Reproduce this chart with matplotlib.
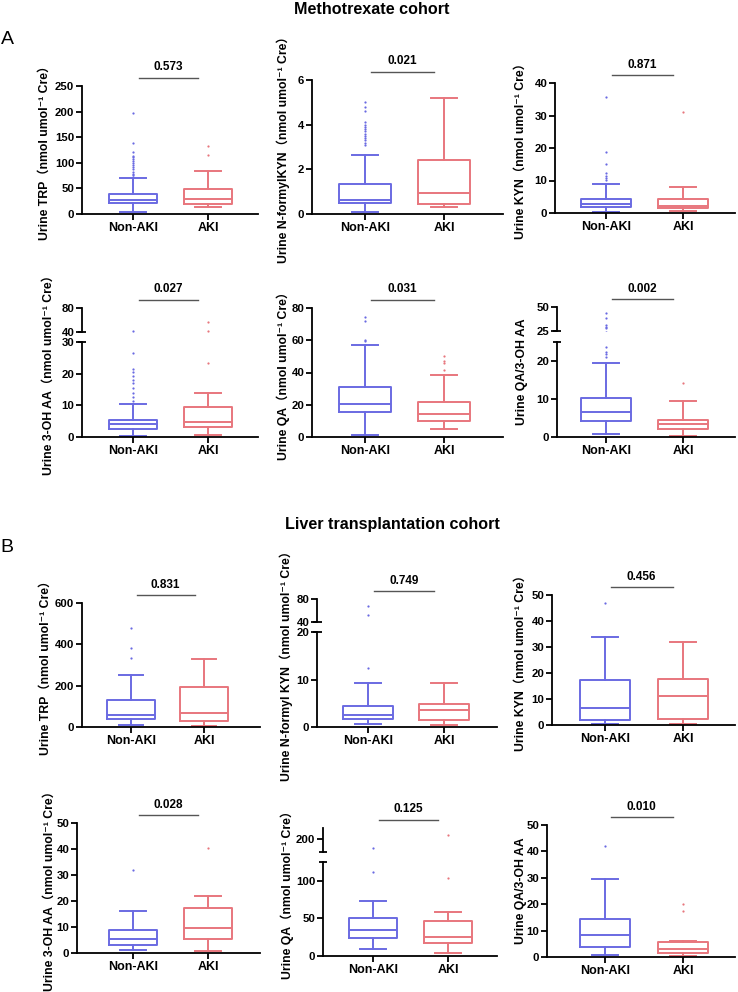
import matplotlib
matplotlib.use('Agg')
import matplotlib.pyplot as plt
import matplotlib.transforms as mtransforms

plt.rcParams['font.family'] = ['Liberation Sans', 'Noto Sans CJK SC', 'DejaVu Sans']
plt.rcParams['font.weight'] = 'bold'

#################################################################
# data: [whisker low, Q1, median, Q3, whisker high] for Non-AKI, AKI

GROUPS = ['Non-AKI', 'AKI']
UNIT = '（nmol umol⁻¹ Cre）'

# Methotrexate cohort
A_TRP_box = [[4, 21, 28, 39, 70], [14, 20, 30, 49, 84]]
A_TRP_out = [[197, 138, 122, 114, 111, 107, 103, 99, 95, 91, 87, 83, 79, 76, 73], [115, 133]]
A_NFK_box = [[0.08, 0.48, 0.62, 1.33, 2.66], [0.3, 0.45, 0.93, 2.4, 5.21]]
A_NFK_out = [[5.0, 4.8, 4.6, 4.1, 4.0, 3.9, 3.8, 3.7, 3.6, 3.5, 3.4, 3.3, 3.2, 3.1], []]
A_KYN_box = [[0.2, 2.0, 2.8, 4.2, 9.0], [0.6, 1.5, 2.3, 4.3, 7.9]]
A_KYN_out = [[35.7, 18.8, 15.1, 12.2, 11.5, 10.7, 10.2], [31.2]]
A_3HAA_box = [[0.3, 2.5, 4.0, 5.5, 10.5], [0.5, 3.2, 4.8, 9.5, 14.0]]
A_3HAA_out = [[41, 26.4, 21.5, 20.5, 19.4, 18, 17, 15.5, 14, 12.5, 11.5], [57, 42, 23.3]]
A_QA_box = [[1, 15.5, 20.5, 31, 57], [5, 10, 14, 22, 38.2]]
A_QA_out = [[74.3, 72.2, 60.3, 59.3], [50, 47, 46, 41.8]]
A_RATIO_box = [[0.8, 4.2, 6.5, 10.2, 19.4], [0.3, 2.0, 3.3, 4.5, 9.5]]
A_RATIO_out = [[43.7, 38.4, 31.3, 29.5, 27.8, 23.8, 22.5, 21.9, 21.0], [14.1]]

# Liver transplantation cohort
B_TRP_box = [[12, 41, 57, 130, 250], [5, 29, 68, 195, 328]]
B_TRP_out = [[480, 380, 332], []]
B_NFK_box = [[0.6, 1.7, 2.6, 4.5, 9.2], [0.5, 1.4, 3.6, 4.9, 9.2]]
B_NFK_out = [[67, 52, 12.4], []]
B_KYN_box = [[0.3, 1.9, 6.4, 17.5, 33.7], [0.4, 2.2, 11.2, 17.8, 31.9]]
B_KYN_out = [[46.8], []]
B_3HAA_box = [[1.0, 3.0, 5.2, 8.8, 16.2], [0.8, 5.3, 9.7, 17.4, 21.9]]
B_3HAA_out = [[32], [40.2]]
B_QA_box = [[8.9, 24.3, 34.5, 50, 73], [4.4, 16.8, 24.8, 47, 58]]
B_QA_out = [[187, 112], [205, 104]]
B_RATIO_box = [[0.6, 3.8, 8.5, 14.3, 29.4], [0.3, 1.7, 3.2, 5.5, 6.1]]
B_RATIO_out = [[42], [20, 17.4]]

P_VALUES = ['0.573', '0.021', '0.871', '0.027', '0.031', '0.002',
            '0.831', '0.749', '0.456', '0.028', '0.125', '0.010']

Y_LABELS = ['Urine TRP' + UNIT, 'Urine N-formylKYN' + UNIT, 'Urine KYN' + UNIT,
            'Urine 3-OH AA' + UNIT, 'Urine QA' + UNIT, 'Urine QA/3-OH AA',
            'Urine TRP' + UNIT, 'Urine N-formyl KYN' + UNIT, 'Urine KYN' + UNIT,
            'Urine 3-OH AA' + UNIT, 'Urine QA' + UNIT, 'Urine QA/3-OH AA']

#################################################################

BOXES = [A_TRP_box, A_NFK_box, A_KYN_box, A_3HAA_box, A_QA_box, A_RATIO_box,
         B_TRP_box, B_NFK_box, B_KYN_box, B_3HAA_box, B_QA_box, B_RATIO_box]
OUTS = [A_TRP_out, A_NFK_out, A_KYN_out, A_3HAA_out, A_QA_out, A_RATIO_out,
        B_TRP_out, B_NFK_out, B_KYN_out, B_3HAA_out, B_QA_out, B_RATIO_out]

# lower ylim, lower ticks, upper ylim (broken axis), upper ticks
SCALES = [
    ((0, 250), range(0, 251, 50), None, None),
    ((0, 6), range(0, 7, 2), None, None),
    ((0, 40), range(0, 41, 10), None, None),
    ((0, 30), range(0, 31, 10), (40, 80), [40, 80]),
    ((0, 80), range(0, 81, 20), None, None),
    ((0, 25), [0, 10, 20], (25, 50), [25, 50]),
    ((0, 600), range(0, 601, 200), None, None),
    ((0, 20), [0, 10, 20], (40, 80), [40, 80]),
    ((0, 50), range(0, 51, 10), None, None),
    ((0, 50), range(0, 51, 10), None, None),
    ((0, 125), [0, 50, 100], (182, 215), [200]),
    ((0, 50), range(0, 51, 10), None, None),
]

# pixel layout: left, right, cat1, cat2, top, bottom, upper (top, bottom), ylabel x
LAYOUT = [
    (82, 258, 133, 208, 86, 214, None, 45),
    (312, 503, 365, 444, 80, 214, None, 283),
    (555, 735, 606, 683, 83, 213, None, 521),
    (82, 258, 133, 208, 342, 437, (308, 332), 49),
    (312, 503, 365, 444, 308, 437, None, 283),
    (557, 735, 606, 683, 342, 437, (307, 331), 522),
    (82, 260, 131, 204, 603, 727, None, 46),
    (317, 497, 368, 444, 632, 727, (599, 622), 286),
    (552, 735, 605, 683, 595, 725, None, 521),
    (77, 260, 133, 208, 823, 953, None, 50),
    (323, 497, 373, 448, 862, 956, (828, 852), 287),
    (547, 735, 605, 683, 825, 957, None, 521),
]

COLORS = ['#6a6ae2', '#e8767d']
W, H = 738, 992
LW = 1.3

fig = plt.figure(figsize=(W / 100, H / 100), dpi=100)


def px_axes(l, r, t, b):
    return fig.add_axes([l / W, 1 - b / H, (r - l) / W, (b - t) / H])


def style(ax):
    for s in ['top', 'right']:
        ax.spines[s].set_visible(False)
    for s in ['left', 'bottom']:
        ax.spines[s].set_linewidth(LW)
    ax.tick_params(direction='out', width=LW, length=4, pad=1.5)
    ax.tick_params(axis='y', labelsize=8.2)
    ax.tick_params(axis='x', labelsize=9)


def draw_boxes(ax, boxes, outs):
    for i, (b, o, c) in enumerate(zip(boxes, outs, COLORS)):
        st = dict(whislo=b[0], q1=b[1], med=b[2], q3=b[3], whishi=b[4], fliers=o)
        lp = dict(color=c, linewidth=1.4)
        ax.bxp([st], positions=[i + 1], widths=0.65, capwidths=0.34,
               boxprops=lp, whiskerprops=lp, capprops=lp, medianprops=lp,
               flierprops=dict(marker='o', markersize=1.6, markerfacecolor=c,
                               markeredgecolor='none', linestyle='none'),
               manage_ticks=False)


def cap(ax, y):
    ax.plot([-0.025, 0.025], [y, y], transform=ax.transAxes, color='black',
            lw=LW, clip_on=False, solid_capstyle='butt')


for k in range(12):
    l, r, c1, c2, t, b, up, lx = LAYOUT[k]
    ylim, yticks, ulim, uticks = SCALES[k]
    unit = c2 - c1
    xlim = (1 - (c1 - l) / unit, 2 + (r - c2) / unit)

    ax = px_axes(l, r, t, b)
    style(ax)
    draw_boxes(ax, BOXES[k], OUTS[k])
    ax.set_xlim(*xlim)
    ax.set_ylim(*ylim)
    ax.set_yticks(list(yticks))
    ax.set_xticks([1, 2])
    ax.set_xticklabels(GROUPS)

    top_ax = ax
    if up is not None:
        ua = px_axes(l, r, up[0], up[1])
        style(ua)
        ua.spines['bottom'].set_visible(False)
        draw_boxes(ua, BOXES[k], OUTS[k])
        ua.set_xlim(*xlim)
        ua.set_ylim(*ulim)
        ua.set_yticks(uticks)
        ua.set_xticks([])
        cap(ua, 0)
        cap(ax, 1)
        top_ax = ua
        span_top = up[0]
    else:
        span_top = t

    # p-value bracket
    trans = mtransforms.blended_transform_factory(top_ax.transData, top_ax.transAxes)
    line_tr = mtransforms.offset_copy(trans, fig=fig, y=6, units='points')
    top_ax.plot([1.08, 1.87], [1, 1], transform=line_tr, color='#555555',
                lw=1.0, clip_on=False)
    txt_tr = mtransforms.offset_copy(trans, fig=fig, y=9, units='points')
    top_ax.text(1.47, 1, P_VALUES[k], transform=txt_tr, ha='center', va='bottom',
                fontsize=8.5)

    fig.text(lx / W, 1 - (span_top + b) / 2 / H, Y_LABELS[k], rotation=90,
             ha='center', va='center', fontsize=8.8)

fig.text(372 / W, 1 - 9 / H, 'Methotrexate cohort', ha='center', va='center',
         fontsize=11.6)
fig.text(392 / W, 1 - 525 / H, 'Liver transplantation cohort', ha='center',
         va='center', fontsize=11.6)
fig.text(7 / W, 1 - 40 / H, 'A', ha='center', va='center', fontsize=14,
         fontweight='normal')
fig.text(7 / W, 1 - 547 / H, 'B', ha='center', va='center', fontsize=14,
         fontweight='normal')

plt.savefig('out.png', dpi=100)
